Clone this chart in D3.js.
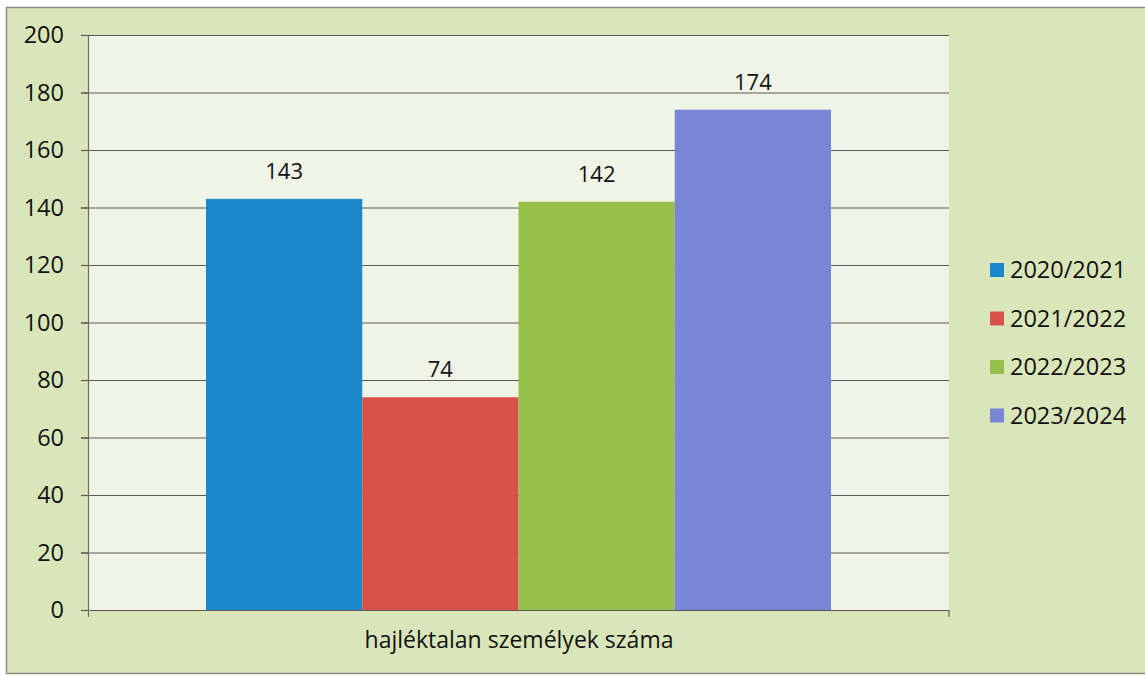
<!DOCTYPE html>
<html lang="hu">
<head>
<meta charset="UTF-8">
<title>hajléktalan személyek száma</title>
<script src="https://cdn.jsdelivr.net/npm/d3@7"></script>
<style>
  body { margin: 0; background: #fff; }
  svg { display: block; font-family: "Open Sans", Lato, sans-serif; }
  .axisy .domain { display: none; }
</style>
</head>
<body>
<svg id="chart" width="1145" height="675"></svg>
<script>
const category = 'hajléktalan személyek száma';
const seasons = ['2020/2021', '2021/2022', '2022/2023', '2023/2024'];
const counts = [143, 74, 142, 174];
const colors = ['#1a88cb', '#d85249', '#97c04b', '#7985d5'];
const yTicks = [0, 20, 40, 60, 80, 100, 120, 140, 160, 180, 200];

const svg = d3.select('#chart');
const margin = {left: 89, right: 196, top: 35, bottom: 65};
const width = 1145, height = 675;
const plotW = width - margin.left - margin.right;
const plotH = height - margin.top - margin.bottom;

// outer chart frame
svg.append('rect')
  .attr('x', 6.5).attr('y', 7.5)
  .attr('width', 1145).attr('height', 666)
  .attr('fill', '#d9e6ba')
  .attr('stroke', '#8a8f86').attr('stroke-width', 1.5);

const g = svg.append('g').attr('transform', `translate(${margin.left},${margin.top})`);

g.append('rect')
  .attr('width', plotW).attr('height', plotH)
  .attr('fill', '#f0f4e7');

const x0 = d3.scaleBand().domain([category]).range([0, plotW]).paddingInner(0).paddingOuter(0);
const x1 = d3.scaleBand().domain(seasons).range([117, plotW - 118]);
const y = d3.scaleLinear().domain([0, 200]).range([plotH, 0]);

// gridlines
g.append('g').selectAll('line').data(yTicks.filter(d => d > 0))
  .join('line')
  .attr('x1', -8).attr('x2', plotW)
  .attr('y1', d => y(d) + 0.5).attr('y2', d => y(d) + 0.5)
  .attr('stroke', '#5a5a55').attr('stroke-width', 1.2);

// bars
g.append('g').selectAll('rect').data(seasons)
  .join('rect')
  .attr('x', d => x1(d))
  .attr('width', x1.bandwidth())
  .attr('y', (d, i) => y(counts[i]))
  .attr('height', (d, i) => plotH - y(counts[i]))
  .attr('fill', (d, i) => colors[i]);

// value labels
g.append('g').selectAll('text').data(seasons)
  .join('text')
  .attr('x', d => x1(d) + x1.bandwidth() / 2)
  .attr('y', (d, i) => y(counts[i]) - 20)
  .attr('text-anchor', 'middle')
  .attr('font-size', 22)
  .attr('fill', '#111')
  .text((d, i) => counts[i]);

// y axis
const yAxis = g.append('g').attr('class', 'axisy')
  .call(d3.axisLeft(y).tickValues(yTicks).tickSize(8).tickPadding(17));
yAxis.selectAll('line').attr('stroke', '#5a5a55').attr('stroke-width', 1.2);
yAxis.selectAll('text').attr('font-size', 23.5).attr('fill', '#111')
  .attr('font-family', '"Open Sans", Lato, sans-serif');
g.append('line')
  .attr('x1', -0.5).attr('x2', -0.5).attr('y1', 0).attr('y2', plotH + 7)
  .attr('stroke', '#6a6a66').attr('stroke-width', 1.2);

// x axis
const xAxis = g.append('g').attr('transform', `translate(0,${plotH})`)
  .call(d3.axisBottom(x0).tickSize(0).tickPadding(22));
xAxis.select('.domain').attr('stroke', '#5a5a55').attr('stroke-width', 1.2);
xAxis.selectAll('text').attr('font-size', 23).attr('fill', '#111')
  .attr('font-family', '"Open Sans", Lato, sans-serif');
g.append('line')
  .attr('x1', plotW).attr('x2', plotW).attr('y1', plotH).attr('y2', plotH + 7)
  .attr('stroke', '#6a6a66').attr('stroke-width', 1.2);

// legend
const legend = svg.append('g').attr('transform', 'translate(990,270)');
const item = legend.selectAll('g').data(seasons)
  .join('g')
  .attr('transform', (d, i) => `translate(0,${i * 48.5})`);
item.append('rect')
  .attr('x', 0).attr('y', -7).attr('width', 14).attr('height', 14)
  .attr('fill', (d, i) => colors[i]);
item.append('text')
  .attr('x', 20).attr('dy', '0.35em')
  .attr('font-size', 23.5).attr('fill', '#111')
  .text(d => d);
</script>
</body>
</html>
